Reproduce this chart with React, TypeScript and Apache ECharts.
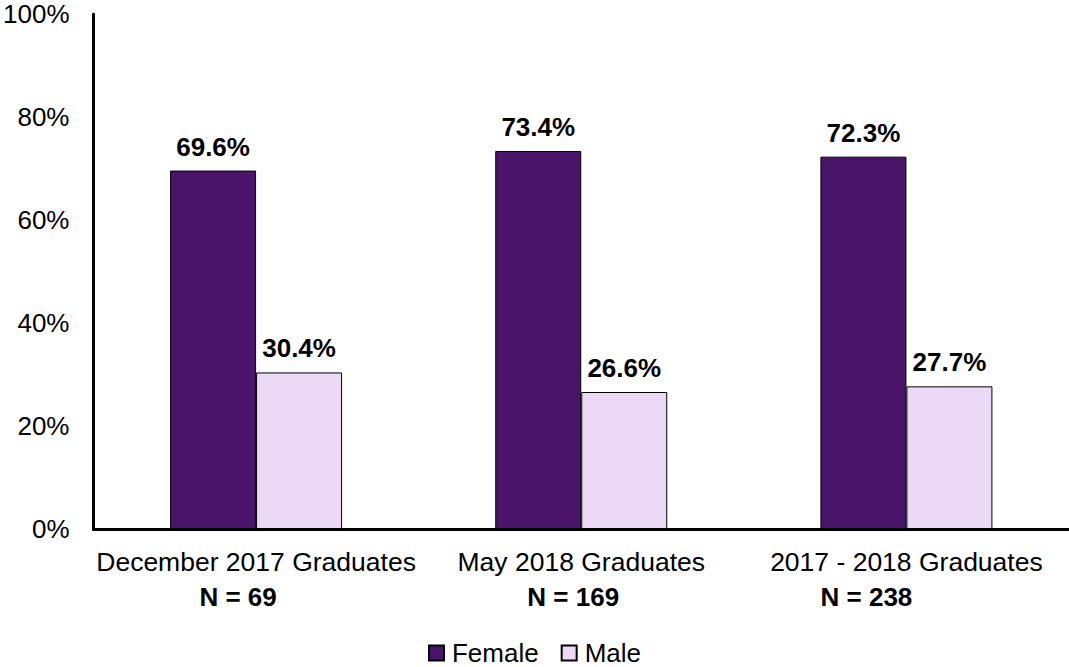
import React, { useEffect, useRef } from "react";
import * as echarts from "echarts";

const categories = ["December 2017 Graduates", "May 2018 Graduates", "2017 - 2018 Graduates"];
const sampleSizes = [69, 169, 238];
const femaleValues = [69.6, 73.4, 72.3];
const maleValues = [30.4, 26.6, 27.7];
const yTicks = [0, 20, 40, 60, 80, 100];

const FONT = "Liberation Sans, Arial, sans-serif";
// left shift of the "N = ..." lines relative to the category centre (px * 2 as right padding)
const nPad = [36, 16, 80];

export default function App() {
  const ref = useRef<HTMLDivElement>(null);
  useEffect(() => {
    document.body.style.margin = "0";
    const chart = echarts.init(ref.current!, null, { renderer: "svg" });
    const labelStyle = {
      show: true,
      position: "top" as const,
      distance: 11,
      fontFamily: FONT,
      fontSize: 26,
      fontWeight: "bold" as const,
      color: "#000",
      formatter: (p: any) => p.value.toFixed(1) + "%",
    };
    const rich: any = {
      a: { fontFamily: FONT, fontSize: 26.5, color: "#000", lineHeight: 35 },
    };
    nPad.forEach((p, i) => {
      rich["b" + i] = {
        fontFamily: FONT,
        fontSize: 26,
        fontWeight: "bold",
        color: "#000",
        lineHeight: 35,
        padding: [0, p, 0, 0],
      };
    });
    chart.setOption({
      animation: false,
      backgroundColor: "#fff",
      grid: { left: 92, right: 0, top: 14, bottom: 138, containLabel: false },
      legend: {
        top: 640,
        left: "center",
        padding: 0,
        itemWidth: 15,
        itemHeight: 15,
        itemGap: 22,
        icon: "rect",
        textStyle: { fontFamily: FONT, fontSize: 26, color: "#000", padding: [0, 0, 0, 3] },
        data: ["Female", "Male"],
      },
      xAxis: {
        type: "category",
        data: categories,
        axisLine: { lineStyle: { color: "#000", width: 3 } },
        axisTick: { show: false },
        axisLabel: {
          margin: 15,
          interval: 0,
          formatter: (v: string, i: number) => `{a|${v}}\n{b${i}|N = ${sampleSizes[i]}}`,
          rich,
        },
      },
      yAxis: {
        type: "value",
        min: yTicks[0],
        max: yTicks[yTicks.length - 1],
        interval: 20,
        axisLine: { show: true, lineStyle: { color: "#000", width: 3 } },
        axisTick: { show: false },
        splitLine: { show: false },
        axisLabel: {
          margin: 24,
          fontFamily: FONT,
          fontSize: 26,
          color: "#000",
          formatter: "{value}%",
        },
      },
      series: [
        {
          name: "Female",
          type: "bar",
          data: femaleValues,
          barWidth: 86,
          barGap: "0%",
          itemStyle: { color: "#4B146B", borderColor: "#000", borderWidth: 1 },
          label: labelStyle,
        },
        {
          name: "Male",
          type: "bar",
          data: maleValues,
          barWidth: 86,
          barGap: "0%",
          itemStyle: { color: "#EBD9F5", borderColor: "#000", borderWidth: 1 },
          label: labelStyle,
        },
      ],
    });
    return () => chart.dispose();
  }, []);
  return <div ref={ref} style={{ width: 1069, height: 667 }} />;
}
